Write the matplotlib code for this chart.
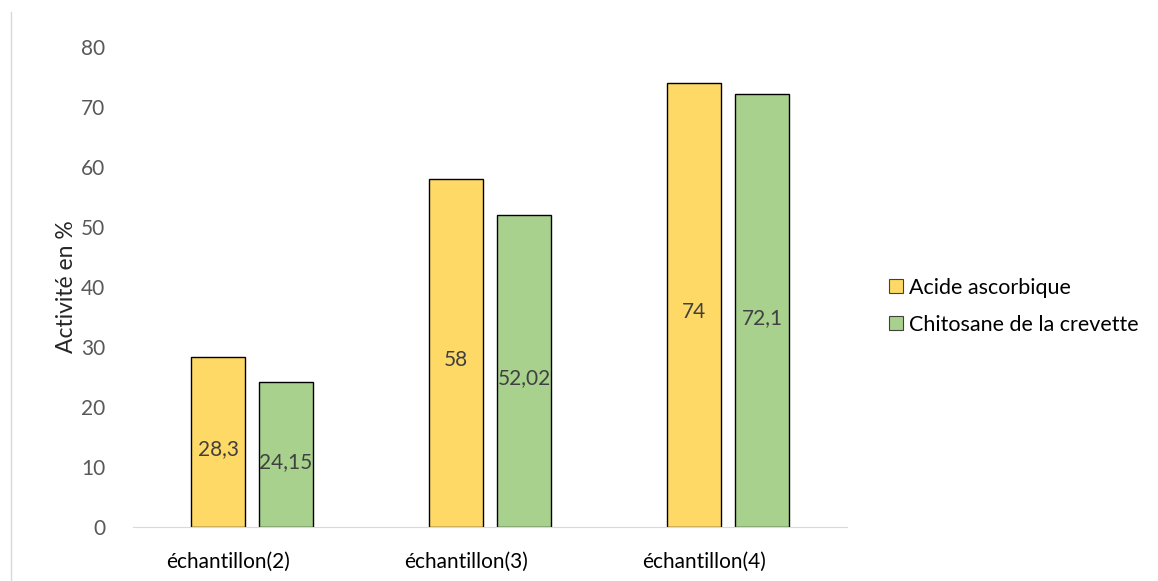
import numpy as np
import matplotlib.pyplot as plt
import matplotlib.transforms as mtransforms
from matplotlib.lines import Line2D

# --- data ---
categories = ['échantillon(2)', 'échantillon(3)', 'échantillon(4)']
series_names = ['Acide ascorbique', 'Chitosane de la crevette']
acide = [28.3, 58, 74]
chitosane = [24.15, 52.02, 72.1]
acide_labels = ['28,3', '58', '74']
chitosane_labels = ['24,15', '52,02', '72,1']

plt.rcParams['font.family'] = ['Lato', 'DejaVu Sans']

fig = plt.figure(figsize=(11.58, 5.81), dpi=100)
ax = fig.add_axes([0.1149, 0.0929, 0.6165, 0.8262])

x = np.arange(len(categories))
w = 0.227
off = 0.143
colors = ['#ffd966', '#a9d18e']

b1 = ax.bar(x - off, acide, w, color=colors[0], edgecolor='black', linewidth=1)
b2 = ax.bar(x + off, chitosane, w, color=colors[1], edgecolor='black', linewidth=1)

for bars, vals, labs in [(b1, acide, acide_labels), (b2, chitosane, chitosane_labels)]:
    for r, v, t in zip(bars, vals, labs):
        ax.text(r.get_x() + r.get_width() / 2, v / 2 - 1.2, t, ha='center', va='center',
                fontsize=15, color='#404040')

ax.set_xlim(-0.5, 2.5)
ax.set_ylim(0, 80)
ax.set_yticks(range(0, 81, 10))
ax.set_xticks(x)
ax.set_xticklabels(categories)
ax.tick_params(axis='both', length=0, colors='#595959')
ax.tick_params(axis='y', pad=20, labelsize=15)
ax.tick_params(axis='x', pad=18, labelsize=15, labelcolor='black')
# category labels sit a little left of the bar groups
shift = mtransforms.ScaledTranslation(-24 / 100, 0, fig.dpi_scale_trans)
for lab in ax.get_xticklabels():
    lab.set_transform(lab.get_transform() + shift)
for s in ['top', 'right', 'left']:
    ax.spines[s].set_visible(False)
ax.spines['bottom'].set_color('#d9d9d9')
ax.set_ylabel('Activité en %', fontsize=16.5, color='#262626', labelpad=3)

handles = [Line2D([], [], marker='s', linestyle='none', markersize=10,
                  markerfacecolor=c, markeredgecolor='#404040', markeredgewidth=0.8)
           for c in colors]
fig.legend(handles, series_names, loc='center left', bbox_to_anchor=(0.757, 0.473),
           frameon=False, fontsize=15.5, handletextpad=0.1, labelspacing=0.8,
           handlelength=1.0, borderaxespad=0)

# thin border line on the left side of the canvas
fig.add_artist(Line2D([0.0095, 0.0095], [0, 0.98], transform=fig.transFigure,
                      color='#d9d9d9', linewidth=1))

fig.savefig('out.png', dpi=100)
